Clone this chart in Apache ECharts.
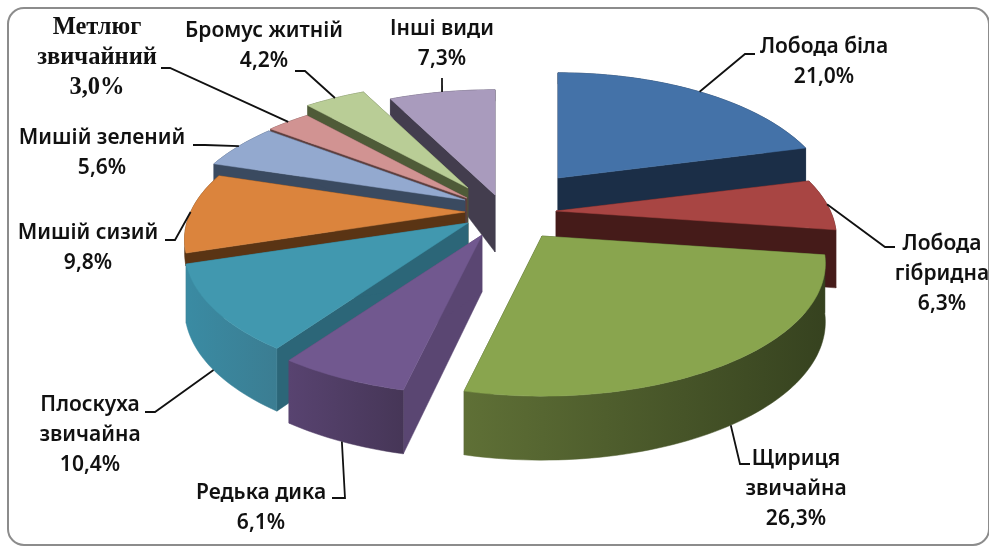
<!DOCTYPE html>
<html>
<head>
<meta charset="utf-8">
<style>
  html, body { margin: 0; padding: 0; background: #fff; }
  #chart { width: 989px; height: 547px; }
</style>
<script src="https://cdn.jsdelivr.net/npm/echarts@6/dist/echarts.min.js"></script>
</head>
<body>
<div id="chart"></div>
<script>
  // chart data
  var categories = ['Лобода біла', 'Лобода\nгібридна', 'Щириця\nзвичайна', 'Редька дика', 'Плоскуха\nзвичайна',
    'Мишій сизий', 'Мишій зелений', 'Метлюг\nзвичайний', 'Бромус житній', 'Інші види']
  var values = [21.0, 6.3, 26.3, 6.1, 10.4, 9.8, 5.6, 3.0, 4.2, 7.3]

  // slice colours
  var topColors = ['#4472a8', '#a84543', '#89a54e', '#71588f', '#4198af', '#db843d', '#93a9cf', '#d19392', '#b9cd96', '#a99bbd']
  var edgeColors = ['#1b2e47', '#451b19', '#36421f', '#5a4672', '#2c6678', '#5a3414', '#3a4a60', '#5e3f3e', '#4f5b38', '#433d4e']
  var wallFrom = ['#1b2e47', '#451b19', '#5f7036', '#584370', '#3a8ba3', '#5a3414', '#3a4a60', '#5e3f3e', '#4f5b38', '#433d4e']
  var wallTo = ['#1b2e47', '#451b19', '#36421f', '#463657', '#3b7d92', '#5a3414', '#3a4a60', '#5e3f3e', '#4f5b38', '#433d4e']

  // layout of the exploded pie, back slices are painted first
  var paintOrder = [9, 8, 7, 6, 5, 4, 3, 0, 1, 2]
  var center = [466, 205]
  var sliceShift = [[92, -27], [90, 6], [76, 31], [16, 30], [2, 18], [-1, 7], [-1, -5], [1, -7], [2, -17], [29, -10]]
  var sliceWidth = [0.96, 0.98, 0.99, 1, 0.99, 0.98, 1, 1, 1, 1]
  var wallLimit = [99, 99, 99, 99, 99, 13, 99, 99, 99, 99]
  var labelPos = [[824, 62], [942, 274], [796, 489], [261, 508], [90, 435], [88, 248], [102, 153], [97, 58], [264, 46], [442, 44]]
  var leaderBend = [[[745, 54], [755, 54]], [[885, 247], [895, 247]], [[740, 464], [750, 464]], [[345, 498], [332, 498]],
    [[155, 412], [145, 412]], [[175, 240], [165, 240]], [[205, 145], [193, 145]], [[170, 68], [161, 68]],
    [[305, 71], [295, 71]], [[442, 78]]]
  var radiusX = 280
  var radiusY = 127
  var perspective = 0.207

  var total = values.reduce(function (a, b) { return a + b }, 0)

  function angleOf(v) {
    return echarts.number.linearMap(v, [0, total], [0, Math.PI * 2])
  }

  // ground plane -> screen, relative to the slice apex
  function project(apex, angle, width) {
    var x = Math.sin(angle)
    var z = Math.cos(angle)
    var s = 1 + perspective * z
    return [apex[0] + radiusX * width * x / s, apex[1] - radiusY * z / s]
  }

  // the side wall is much shorter at the back of the pie
  function wallHeight(z, limit) {
    return Math.min(limit, z > 0 ? 57 * (1 - 0.8 * z) : 57 - 7 * z)
  }

  function arcPoints(apex, from, to, width, limit) {
    var n = Math.max(2, Math.ceil((to - from) / 0.025))
    var top = []
    var bottom = []
    for (var i = 0; i <= n; i++) {
      var a = from + (to - from) * i / n
      var p = project(apex, a, width)
      top.push(p)
      bottom.push([p[0], p[1] + wallHeight(Math.cos(a), limit)])
    }
    return { top: top, bottom: bottom }
  }

  function poly(points, fill, z2) {
    return { type: 'polygon', z2: z2, shape: { points: points }, style: { fill: fill, stroke: fill, lineWidth: 0.5 } }
  }

  function renderSlice(params, api) {
    var i = api.value(0)
    var start = angleOf(values.slice(0, i).reduce(function (a, b) { return a + b }, 0))
    var end = start + angleOf(api.value(1))
    var apex = [center[0] + sliceShift[i][0], center[1] + sliceShift[i][1]]
    var arc = arcPoints(apex, start, end, sliceWidth[i], wallLimit[i])
    var last = arc.top.length - 1
    var apexBottom = [apex[0], apex[1] + wallHeight(0, wallLimit[i])]
    var base = paintOrder.indexOf(i) * 4

    var wallFill = new echarts.graphic.LinearGradient(0, 0, 1, 0, [
      { offset: 0, color: wallFrom[i] },
      { offset: 1, color: wallTo[i] }
    ])

    var children = [
      poly([apex, arc.top[0], arc.bottom[0], apexBottom], edgeColors[i], base),
      poly([apex, arc.top[last], arc.bottom[last], apexBottom], edgeColors[i], base),
      poly(arc.top.concat(arc.bottom.slice().reverse()), wallFill, base + 1),
      poly([apex].concat(arc.top), topColors[i], base + 2)
    ]

    // leader line goes from the middle of the slice rim
    var mid = (start + end) / 2
    var anchor = project(apex, mid, sliceWidth[i])
    if (Math.cos(mid) < -0.1) {
      anchor[1] += wallHeight(Math.cos(mid), wallLimit[i])
    }
    children.push({
      type: 'polyline',
      z2: 60,
      shape: { points: [anchor].concat(leaderBend[i]) },
      style: { fill: null, stroke: '#111', lineWidth: 1.8 }
    })

    var serif = i === 7
    children.push({
      type: 'text',
      z2: 70,
      style: {
        x: labelPos[i][0],
        y: labelPos[i][1],
        text: categories[i] + '\n' + api.value(1).toFixed(1).replace('.', ',') + '%',
        align: 'center',
        verticalAlign: 'middle',
        lineHeight: 30,
        fontFamily: serif ? 'Liberation Serif' : 'Noto Sans',
        fontWeight: serif ? 700 : 600,
        fontSize: serif ? 24.5 : 21,
        fill: '#111'
      }
    })

    return { type: 'group', children: children }
  }

  var chart = echarts.init(document.getElementById('chart'))
  chart.setOption({
    animation: false,
    backgroundColor: '#fff',
    graphic: [{
      type: 'rect',
      shape: { x: 8, y: 8, width: 981, height: 537, r: 16 },
      style: { fill: 'none', stroke: '#8c8c8c', lineWidth: 2 },
      silent: true
    }],
    series: [{
      type: 'custom',
      coordinateSystem: 'none',
      renderItem: renderSlice,
      data: paintOrder.map(function (i) { return [i, values[i]] })
    }]
  })
</script>
</body>
</html>
